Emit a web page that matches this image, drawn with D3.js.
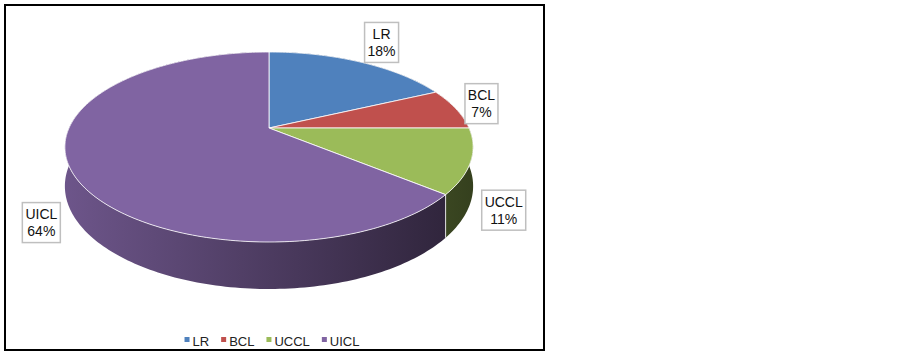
<!DOCTYPE html>
<html>
<head>
<meta charset="utf-8">
<script src="https://cdn.jsdelivr.net/npm/d3@7"></script>
<style>
  body { margin: 0; background: #fff; }
  text { font-family: "Liberation Sans", Arial, sans-serif; }
</style>
</head>
<body>
<div id="chart"></div>
<script>
// data
const categories = ["LR", "BCL", "UCCL", "UICL"];
const shares = [18, 7, 11, 64];
const colors = ["#4F81BD", "#C0504D", "#9BBB59", "#8064A2"];

const W = 903, H = 353;

// pie geometry (perspective 3d ellipse)
const cx = 269, cy = 128;      // apex of the slices
const A = 200, B = 91.2;       // radii before perspective
const k = 0.2;                 // perspective strength
const depth = 37.6;            // thickness of the pie

function proj(theta, r, z) {
    const u = r * Math.sin(theta), v = -r * Math.cos(theta);
    const d = 1 - k * v;
    return [cx + A * u / d, cy + B * v / d + z * depth / d];
}

const svg = d3.select("#chart").append("svg")
    .attr("width", W)
    .attr("height", H);

// frame
svg.append("rect")
    .attr("x", 5).attr("y", 5)
    .attr("width", 539).attr("height", 345)
    .attr("fill", "#fff")
    .attr("stroke", "#000")
    .attr("stroke-width", 2);

const arcs = d3.pie().sort(null).value(d => d)(shares);

// horizontal shading for the sides
const defs = svg.append("defs");
colors.forEach((c, i) => {
    const g = defs.append("linearGradient")
        .attr("id", "side" + i)
        .attr("gradientUnits", "userSpaceOnUse")
        .attr("x1", 65).attr("x2", 473).attr("y1", 0).attr("y2", 0);
    const base = d3.rgb(c);
    [[0, 0.85], [1, 0.34]].forEach(([o, f]) => {
        g.append("stop")
            .attr("offset", o)
            .attr("stop-color", d3.rgb(base.r * f, base.g * f, base.b * f).formatHex());
    });
});

function arcPts(a0, a1, r, z) {
    const n = Math.max(4, Math.ceil((a1 - a0) / 0.02));
    return d3.range(n + 1).map(i => proj(a0 + (a1 - a0) * i / n, r, z));
}

const line = d3.line();

// sides
svg.append("g").selectAll("path")
    .data(arcs)
    .join("path")
    .attr("d", d => {
        const top = arcPts(d.startAngle, d.endAngle, 1, 0);
        const bot = arcPts(d.startAngle, d.endAngle, 1, 1).reverse();
        return line(top.concat(bot)) + "Z";
    })
    .attr("fill", (d, i) => `url(#side${i})`);

// visible side seams
const silL = Math.acos(-k), silR = 2 * Math.PI - Math.acos(-k);
arcs.forEach(d => {
    const a = d.startAngle;
    if (a > silL && a < silR) {
        const p0 = proj(a, 1, 0), p1 = proj(a, 1, 1);
        svg.append("line")
            .attr("x1", p0[0]).attr("y1", p0[1])
            .attr("x2", p1[0]).attr("y2", p1[1])
            .attr("stroke", "#fff").attr("stroke-opacity", 0.8)
            .attr("stroke-width", 1);
    }
});

// tops
svg.append("g").selectAll("path")
    .data(arcs)
    .join("path")
    .attr("d", d => line([[cx, cy]].concat(arcPts(d.startAngle, d.endAngle, 1, 0))) + "Z")
    .attr("fill", (d, i) => colors[i])
    .attr("stroke", "#fff")
    .attr("stroke-width", 0.8)
    .attr("stroke-linejoin", "round");

// data labels
const total = d3.sum(shares);
arcs.forEach((d, i) => {
    const mid = (d.startAngle + d.endAngle) / 2;
    const u = Math.sin(mid), v = -Math.cos(mid);
    const p = proj(mid, 1.05, v > 0 ? 1 : 0);
    const g = svg.append("g");
    const lines = [categories[i], Math.round(shares[i] / total * 100) + "%"];
    const texts = lines.map((t, j) => g.append("text")
        .attr("text-anchor", "middle")
        .attr("font-size", 14)
        .attr("fill", "#111")
        .text(t));
    const tw = d3.max(texts, t => t.node().getComputedTextLength());
    const bw = Math.round(tw + 6), bh = 40;
    const bx = p[0] + Math.sign(u) * Math.min(1, Math.abs(u) * 2) * bw / 2,
          by = p[1] + v * bh / 2;
    g.insert("rect", "text")
        .attr("x", bx - bw / 2).attr("y", by - bh / 2)
        .attr("width", bw).attr("height", bh)
        .attr("fill", "#fff")
        .attr("stroke", "#BFBFBF")
        .attr("stroke-width", 1.5);
    texts.forEach((t, j) => t.attr("x", bx).attr("y", by - 3.5 + j * 17));
});

// legend
const leg = svg.append("g");
const items = categories.map((c, i) => {
    const g = leg.append("g");
    g.append("rect")
        .attr("width", 5).attr("height", 5)
        .attr("y", -4)
        .attr("fill", colors[i]);
    const t = g.append("text")
        .attr("x", 8)
        .attr("y", 0)
        .attr("dy", "0.35em")
        .attr("font-size", 13)
        .attr("fill", "#222")
        .text(c);
    return { g, w: 8 + t.node().getComputedTextLength() };
});
const gap = 12;
const legW = d3.sum(items, d => d.w) + gap * (items.length - 1);
let lx = 272 - legW / 2;
items.forEach(d => {
    d.g.attr("transform", `translate(${lx},341)`);
    lx += d.w + gap;
});
</script>
</body>
</html>
